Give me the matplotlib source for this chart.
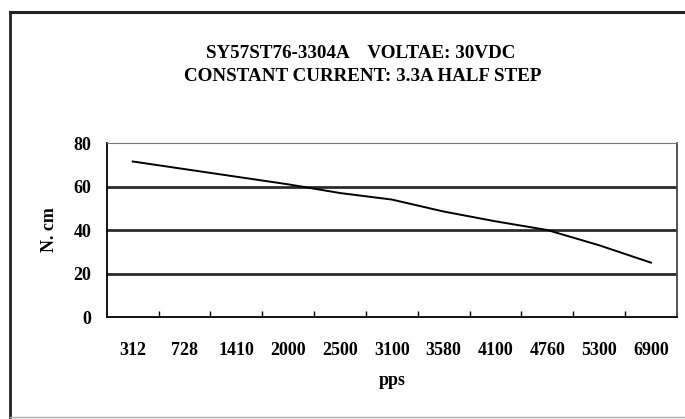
import matplotlib.pyplot as plt
from matplotlib.lines import Line2D

# pps categories and torque (N.cm)
speeds = ['312', '728', '1410', '2000', '2500', '3100', '3580', '4100', '4760', '5300', '6900']
torque = [71.5, 68, 64.5, 61, 57, 54, 48.5, 44, 40, 33, 25]
y_ticks = [0, 20, 40, 60, 80]

plt.rcParams['font.family'] = ['Liberation Serif', 'DejaVu Serif']
plt.rcParams['font.weight'] = 'bold'

fig = plt.figure(figsize=(6.85, 4.19), dpi=100)
ax = fig.add_axes([0.156, 0.2434, 0.832, 0.4153])

x = list(range(len(speeds)))
for v in y_ticks[1:-1]:
    ax.axhline(v, color='#2b2b2b', lw=2.0, zorder=1)
ax.plot(x, torque, color='black', lw=1.4, zorder=3)

ax.set_xlim(-0.5, len(speeds) - 0.5)
ax.set_ylim(0, 80)
ax.set_yticks(y_ticks)
ax.set_yticklabels([str(v) for v in y_ticks], fontsize=13, fontweight='bold')
ax.tick_params(axis='y', length=0, pad=11)

ax.set_xticks(x)
ax.set_xticklabels(speeds, fontsize=13, fontweight='bold')
ax.tick_params(axis='x', which='major', length=0, pad=18)
ax.set_xticks([i + 0.5 for i in x[:-1]], minor=True)
ax.tick_params(axis='x', which='minor', direction='in', length=4, width=1, color='black')

ax.set_xlabel('pps', fontsize=13, fontweight='bold', labelpad=9)
ax.set_ylabel('N. cm', fontsize=13, fontweight='bold', labelpad=11)

ax.spines['left'].set_color('black')
ax.spines['bottom'].set_color('black')
ax.spines['left'].set_linewidth(1.3)
ax.spines['bottom'].set_linewidth(1.3)
ax.spines['top'].set_color('#777777')
ax.spines['right'].set_color('#444444')
ax.spines['right'].set_linewidth(1.3)

fig.text(0.526, 0.872, 'SY57ST76-3304A    VOLTAE: 30VDC', ha='center', va='center',
         fontsize=13.7, fontweight='bold')
fig.text(0.529, 0.817, 'CONSTANT CURRENT: 3.3A HALF STEP', ha='center', va='center',
         fontsize=13.7, fontweight='bold')

# outer frame
fig.add_artist(Line2D([0.0146, 0.9985], [0.971, 0.971], color='#222222', lw=2.2))
fig.add_artist(Line2D([0.0146, 0.0146], [0.005, 0.971], color='#222222', lw=2.0))
fig.add_artist(Line2D([0.0146, 0.9985], [0.005, 0.005], color='#aaaaaa', lw=1.0))

fig.savefig('out.png', dpi=100)
